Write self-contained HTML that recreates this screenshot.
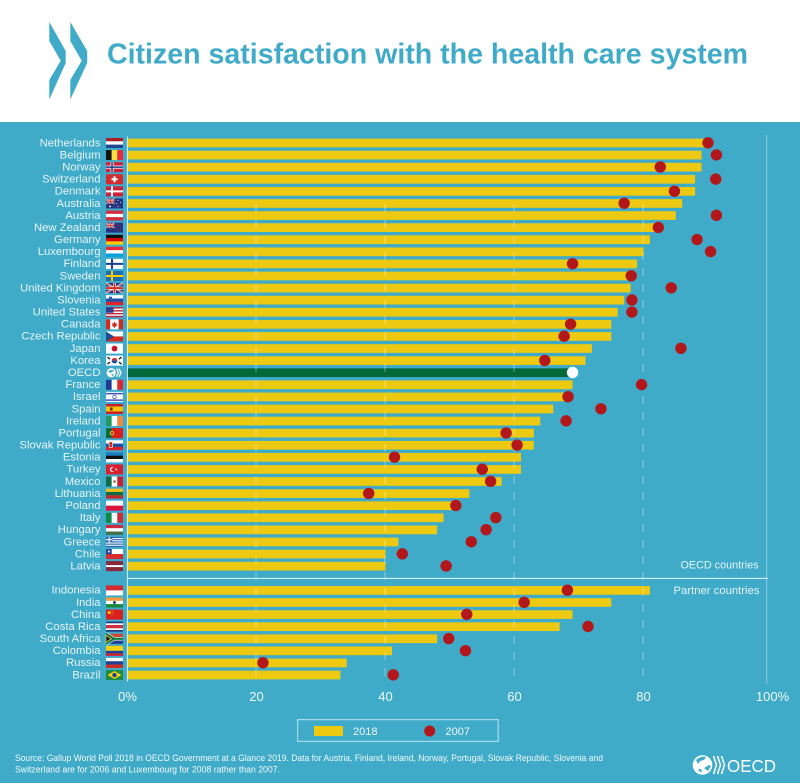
<!DOCTYPE html>
<html lang="en">
<head>
<meta charset="utf-8">
<title>Citizen satisfaction with the health care system</title>
<style>
html,body{margin:0;padding:0;background:#fff;}
svg{display:block;font-family:"Liberation Sans",sans-serif;}
</style>
</head>
<body>
<svg id="chart" xmlns="http://www.w3.org/2000/svg" width="800" height="783" viewBox="0 0 800 783">
  <rect x="0" y="0" width="800" height="122" fill="#ffffff"/>
  <rect x="0" y="122" width="800" height="661" fill="#40abc8"/>
  <g fill="#40abc8">
    <polygon points="49.3,22 65.7,51 65.7,63 49.3,99.5 49.3,80 60.7,60.7 49.3,41"/>
    <polygon points="70.3,22 87.2,51 87.2,63 70.3,99.5 70.3,80 81.7,60.7 70.3,41"/>
  </g>
  <text x="107" y="63.5" font-size="28.5" font-weight="700" fill="#40abc8" textLength="641" lengthAdjust="spacingAndGlyphs">Citizen satisfaction with the health care system</text>

  <g id="flags"></g>
  <g id="labels"></g>
  <g id="bars"></g>
  <g id="grid"></g>
  <line x1="127.4" x2="127.4" y1="136.5" y2="681.5" stroke="#d9eff5" stroke-width="1"/>
  <line x1="766.7" x2="766.7" y1="135" y2="684" stroke="#8ccde0" stroke-width="1"/>
  <line x1="127" x2="767.7" y1="578.4" y2="578.4" stroke="#e8f6fa" stroke-width="1"/>
  <g id="dots"></g>
  <g id="ticks"></g>

  <text x="758.5" y="568.5" font-size="11" fill="#e4f3f7" text-anchor="end" textLength="78" lengthAdjust="spacingAndGlyphs">OECD countries</text>
  <text x="759.5" y="594" font-size="11" fill="#e4f3f7" text-anchor="end" textLength="86" lengthAdjust="spacingAndGlyphs">Partner countries</text>

  <g>
    <rect x="297.6" y="719.6" width="200.6" height="21.8" fill="none" stroke="#a3d9e7" stroke-width="1.3"/>
    <rect x="314" y="726" width="29" height="10" fill="#edc912"/>
    <text x="353" y="735" font-size="11" fill="#eef8fb">2018</text>
    <circle cx="429.7" cy="731" r="5.5" fill="#b2181b"/>
    <text x="445.5" y="735" font-size="11" fill="#eef8fb">2007</text>
  </g>

  <text x="15" y="761" font-size="9.3" fill="#f0f9fb" textLength="588" lengthAdjust="spacingAndGlyphs">Source: Gallup World Poll 2018 in OECD Government at a Glance 2019. Data for Austria, Finland, Ireland, Norway, Portugal, Slovak Republic, Slovenia and</text>
  <text x="15" y="772.5" font-size="9.3" fill="#f0f9fb" textLength="265" lengthAdjust="spacingAndGlyphs">Switzerland are for 2006 and Luxembourg for 2008 rather than 2007.</text>

  <g>
    <circle cx="702.5" cy="765" r="9.8" fill="#ffffff"/>
    <path d="M696 760c3-3 7-4 10-3l-2 3-4 1-2 3zM704 768l5-3 2 1-3 5zM698 769l3 0 1 3-2 0z" fill="#40abc8"/>
    <path d="M713.5 756L716.5 765 713.5 774M717.5 756L720.5 765 717.5 774M721.5 756L724.5 765 721.5 774" fill="none" stroke="#ffffff" stroke-width="1.5"/>
    <text x="727" y="772" font-size="17.5" fill="#ffffff" textLength="49" lengthAdjust="spacingAndGlyphs">OECD</text>
  </g>
</svg>
<script>
// Chart data: OECD group
const oecdCountries = ["Netherlands","Belgium","Norway","Switzerland","Denmark","Australia","Austria","New Zealand","Germany","Luxembourg","Finland","Sweden","United Kingdom","Slovenia","United States","Canada","Czech Republic","Japan","Korea","OECD","France","Israel","Spain","Ireland","Portugal","Slovak Republic","Estonia","Turkey","Mexico","Lithuania","Poland","Italy","Hungary","Greece","Chile","Latvia"];
const oecdValues2018 = [90,89,89,88,88,86,85,82,81,80,79,78,78,77,76,75,75,72,71,69,69,68,66,64,63,63,61,61,58,53,51,49,48,42,40,40];
const oecdValues2007 = [90,91.3,82.6,91.2,84.8,77,91.3,82.3,88.3,90.4,69,78.1,84.3,78.2,78.2,68.7,67.7,85.8,64.7,69,79.7,68.3,73.4,68,58.7,60.4,41.4,55,56.3,37.4,50.9,57.1,55.6,53.3,42.6,49.4];
// Chart data: partner group
const partnerCountries = ["Indonesia","India","China","Costa Rica","South Africa","Colombia","Russia","Brazil"];
const partnerValues2018 = [81,75,69,67,48,41,34,33];
const partnerValues2007 = [68.2,61.5,52.6,71.4,49.8,52.4,21,41.2];
// Axis ticks
const tickValues = [0,20,40,60,80,100];
const tickLabels = ["0%","20","40","60","80","100%"];
const gridValues = [20,40,60,80];

const NS = "http://www.w3.org/2000/svg";
function xScale(v){ return 127.5 + v * 6.45; }
function yOecd(i){ return 143 + i * 12.09; }
function yPartner(i){ return 590.4 + i * 12.09; }
function make(tag, attrs, parent){
  const el = document.createElementNS(NS, tag);
  for (const k in attrs) el.setAttribute(k, attrs[k]);
  parent.appendChild(el);
  return el;
}
function slug(s){ return s.toLowerCase().replace(/\s+/g, "-"); }

const R = "#d52b1e", W = "#ffffff", B = "#24408e", G = "#12803c", Y = "#f5d30f", K = "#111111";
const UNION = '<rect width="8.5" height="5.5" fill="#2b3f8c"/><path d="M0 0L8.5 5.5M8.5 0L0 5.5" stroke="#fff" stroke-width="1"/><path d="M0 0L8.5 5.5M8.5 0L0 5.5" stroke="#d52b1e" stroke-width=".4"/><path d="M4.25 0V5.5M0 2.75H8.5" stroke="#fff" stroke-width="1.7"/><path d="M4.25 0V5.5M0 2.75H8.5" stroke="#d52b1e" stroke-width="1"/>';
function cross(c1, c2){
  let s = '<path d="M6 0V10M0 5H17" stroke="' + c1 + '" stroke-width="' + (c2 ? 3 : 2) + '"/>';
  if (c2) s += '<path d="M6 0V10M0 5H17" stroke="' + c2 + '" stroke-width="1.5"/>';
  return s;
}
const flagSpecs = {
  "Netherlands":{h:["#ae1c28",W,"#21468b"]},
  "Belgium":{v:[K,"#fae042","#ed2939"]},
  "Norway":{h:["#d0203a"],o:cross(W,"#1f3a80")},
  "Switzerland":{h:["#d52b2e"],o:'<path d="M8.5 2V8M5.5 5H11.5" stroke="#fff" stroke-width="2"/>'},
  "Denmark":{h:["#d0203a"],o:cross(W)},
  "Australia":{h:["#27337f"],o:UNION+'<g fill="#fff"><circle cx="4" cy="8" r=".9"/><circle cx="12" cy="2" r=".5"/><circle cx="14.5" cy="4" r=".5"/><circle cx="12" cy="8" r=".5"/><circle cx="10.5" cy="5" r=".5"/></g>'},
  "Austria":{h:["#d52b3c",W,"#d52b3c"]},
  "New Zealand":{h:["#27337f"],o:UNION+'<g fill="#cc2336"><circle cx="12" cy="2.5" r=".6"/><circle cx="14.5" cy="4.5" r=".6"/><circle cx="12" cy="8" r=".6"/><circle cx="10" cy="5" r=".6"/></g>'},
  "Germany":{h:[K,"#dd0000","#ffce00"]},
  "Luxembourg":{h:["#ed2939",W,"#00a1de"]},
  "Finland":{h:[W],o:cross("#1b3f8f")},
  "Sweden":{h:["#1f6fb0"],o:cross("#fecc00")},
  "United Kingdom":{h:["#27337f"],o:'<path d="M0 0L17 10M17 0L0 10" stroke="#fff" stroke-width="1.6"/><path d="M0 0L17 10M17 0L0 10" stroke="#d52b1e" stroke-width=".6"/><path d="M8.5 0V10M0 5H17" stroke="#fff" stroke-width="3"/><path d="M8.5 0V10M0 5H17" stroke="#d52b1e" stroke-width="1.8"/>'},
  "Slovenia":{h:[W,"#1f4fa3","#e0202a"],o:'<rect x="3" y="1.5" width="3" height="3" fill="#2b5fb0"/>'},
  "United States":{h:["#c8243c",W,"#c8243c",W,"#c8243c",W,"#c8243c"],o:'<rect width="7.5" height="5.5" fill="#2b3f8c"/>'},
  "Canada":{v:[R,W,W,R],o:'<path d="M8.5 2.2L9.6 4.2 11 3.8 10.4 6 11.3 6.4 9 7.6V8.4H8V7.6L5.7 6.4 6.6 6 6 3.8 7.4 4.2Z" fill="#d52b1e"/>'},
  "Czech Republic":{h:[W,"#d52b1e"],o:'<polygon points="0,0 8,5 0,10" fill="#1f4a8f"/>'},
  "Japan":{h:[W],o:'<circle cx="8.5" cy="5" r="2.9" fill="#c8102e"/>'},
  "Korea":{h:[W],o:'<path d="M5.7 5a2.8 2.8 0 0 1 5.6 0z" fill="#cd2e3a"/><path d="M5.7 5a2.8 2.8 0 0 0 5.6 0z" fill="#0f4fa0"/><path d="M1.5 1.5L4 3.5M13 3.5L15.5 1.5M1.5 8.5L4 6.5M13 6.5L15.5 8.5" stroke="#111" stroke-width="1.3"/>'},
  "France":{v:["#1f3a93",W,"#e1252f"]},
  "Israel":{h:[W],o:'<rect y="1" width="17" height="1.5" fill="#3f57b5"/><rect y="7.5" width="17" height="1.5" fill="#3f57b5"/><circle cx="8.5" cy="5" r="1.8" fill="none" stroke="#3f57b5" stroke-width=".8"/>'},
  "Spain":{h:["#c8202c","#f5c400","#f5c400","#c8202c"],o:'<rect x="4" y="3.5" width="2.6" height="3" fill="#7a2a10"/>'},
  "Ireland":{v:["#1f9a5a",W,"#ee8a3a"]},
  "Portugal":{v:["#0d6b38","#d8201f","#d8201f"],o:'<rect x="5.7" width="11.3" height="10" fill="#d8201f"/><circle cx="6" cy="5" r="2.2" fill="#e8c020"/><circle cx="6" cy="5" r="1.2" fill="#b3202a"/>'},
  "Slovak Republic":{h:[W,"#1c4fa0","#e0202a"],o:'<rect x="3" y="1.5" width="3.6" height="6" rx="1" fill="#d52b1e" stroke="#fff" stroke-width=".6"/>'},
  "Estonia":{h:["#1a7cc1",K,W]},
  "Turkey":{h:["#d9202e"],o:'<circle cx="6.5" cy="5" r="2.6" fill="#fff"/><circle cx="7.3" cy="5" r="2.1" fill="#d9202e"/><circle cx="10.3" cy="5" r=".9" fill="#fff"/>'},
  "Mexico":{v:["#0d6b47",W,"#c8202c"],o:'<circle cx="8.5" cy="5" r="1.3" fill="#8a6b2a"/>'},
  "Lithuania":{h:["#f0c020","#0f6b3f","#c02a2a"]},
  "Poland":{h:[W,"#dc143c"]},
  "Italy":{v:["#0b8a46",W,"#ce2b37"]},
  "Hungary":{h:["#cd2a3e",W,"#436f4d"]},
  "Greece":{h:["#2c63b0",W,"#2c63b0",W,"#2c63b0",W,"#2c63b0",W,"#2c63b0"],o:'<rect width="6.5" height="5.5" fill="#2c63b0"/><path d="M3.2 0V5.5M0 2.7H6.5" stroke="#fff" stroke-width="1.1"/>'},
  "Chile":{h:[W,"#d72b2b"],o:'<rect width="5.7" height="5" fill="#1c3f94"/><circle cx="2.8" cy="2.5" r="1" fill="#fff"/>'},
  "Latvia":{h:["#8a2436","#8a2436",W,"#8a2436","#8a2436"]},
  "Indonesia":{h:["#d52b2e",W]},
  "India":{h:["#f49a3c",W,"#17883c"],o:'<circle cx="8.5" cy="5" r="1.5" fill="#24408e"/>'},
  "China":{h:["#d9201f"],o:'<circle cx="3.2" cy="3" r="1.5" fill="#f6d50c"/><circle cx="6" cy="1.6" r=".5" fill="#f6d50c"/><circle cx="7" cy="3" r=".5" fill="#f6d50c"/><circle cx="6" cy="4.8" r=".5" fill="#f6d50c"/>'},
  "Costa Rica":{h:["#1f3a80",W,"#d52b3c","#d52b3c",W,"#1f3a80"]},
  "South Africa":{h:["#d9402e","#d9402e",W,"#1f3a8f","#1f3a8f"],o:'<path d="M0 0L8 5 0 10M8 5H17" stroke="#fff" stroke-width="3.4" fill="none"/><path d="M0 0L8 5 0 10M8 5H17" stroke="#0f7a45" stroke-width="2.2" fill="none"/><polygon points="0,1.6 5,5 0,8.4" fill="#111" stroke="#f0c020" stroke-width=".7"/>'},
  "Colombia":{h:["#f6d20f","#f6d20f","#1f3f94","#cf2036"]},
  "Russia":{h:[W,"#24408e","#d52b1e"]},
  "Brazil":{h:["#1d8a3f"],o:'<polygon points="8.5,1 15.5,5 8.5,9 1.5,5" fill="#f6d20f"/><circle cx="8.5" cy="5" r="2.2" fill="#25408e"/>'}
};

function drawFlag(name, cy){
  const group = document.getElementById("flags");
  const g = make("g", {transform:"translate(106 " + (cy - 5) + ")"}, group);
  
  
  if (name === "OECD") {
    make("circle", {cx:5.2, cy:5, r:4.6, fill:"#ffffff"}, g);
    make("path", {d:"M2 4c2-2 4-2 6-1.5L6 4.5 4 5zM5 7l3-1-1 2.5z", fill:"#40abc8"}, g);
    make("path", {d:"M10.5 1L12.5 5 10.5 9M13 1L15 5 13 9", fill:"none", stroke:"#ffffff", "stroke-width":1.3}, g);
    return;
  }
  const s = flagSpecs[name] || {h:[W]};
  if (s.h) {
    const n = s.h.length;
    s.h.forEach(function(c, k){ make("rect", {x:0, y:k*10/n, width:17, height:10/n + .02, fill:c}, g); });
  } else {
    const n = s.v.length;
    s.v.forEach(function(c, k){ make("rect", {x:k*17/n, y:0, width:17/n + .02, height:10, fill:c}, g); });
  }
  if (s.o) {
    const o = document.createElementNS(NS, "g");
    o.innerHTML = s.o;
    g.appendChild(o);
  }
}

function drawRow(name, v18, v07, cy){
  const key = slug(name);
  const isAvg = name === "OECD";
  drawFlag(name, cy);

  const label = make("text", {x:100.5, y:cy + 3.3, "font-size":11.3, "text-anchor":"end", fill:"#e6f4f8"}, document.getElementById("labels"));
  
  
  label.textContent = name;

  const bar = make("rect", {x:xScale(0), y:cy - 4.35, width:xScale(v18) - xScale(0), height:8.7, fill:isAvg ? "#04693a" : "#edc912"}, document.getElementById("bars"));
  
  

  const dot = make("circle", {cx:xScale(v07), cy:cy - .2, r:5.7, fill:isAvg ? "#ffffff" : "#b2181b"}, document.getElementById("dots"));
  
  
}

oecdCountries.forEach(function(n, i){ drawRow(n, oecdValues2018[i], oecdValues2007[i], yOecd(i)); });
partnerCountries.forEach(function(n, i){ drawRow(n, partnerValues2018[i], partnerValues2007[i], yPartner(i)); });

gridValues.forEach(function(v){
  const line = make("line", {x1:xScale(v) - .5, x2:xScale(v) - .5, y1:204, y2:681, stroke:"#ffffff", "stroke-opacity":.38, "stroke-width":1, "stroke-dasharray":"8 8"}, document.getElementById("grid"));
  
  
});

tickValues.forEach(function(v, i){
  const t = make("text", {x:xScale(v), y:701, "font-size":13, "text-anchor":"middle", fill:"#eef8fb"}, document.getElementById("ticks"));
  
  
  t.textContent = tickLabels[i];
});
</script>
</body>
</html>
